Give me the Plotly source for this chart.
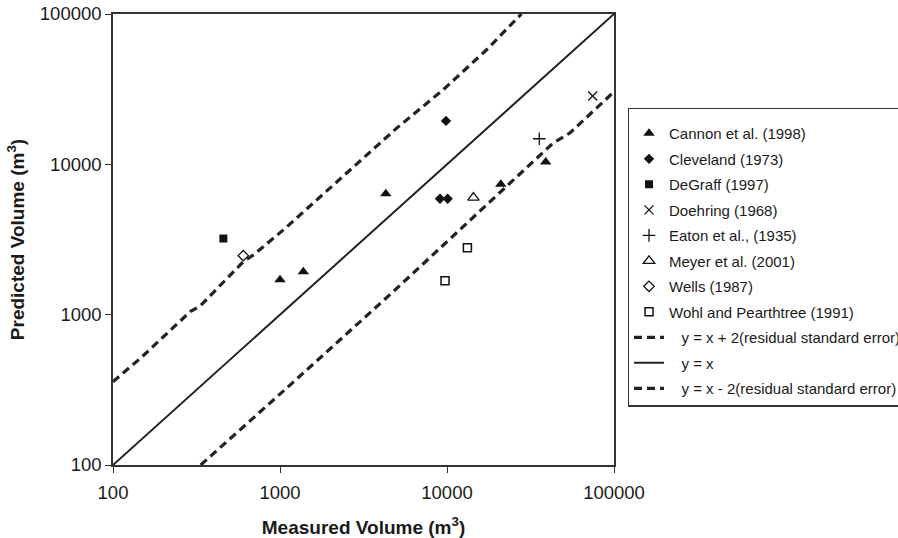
import plotly.graph_objects as go

# ---- data ----
cannon_x = [1000, 1380, 4300, 21000, 39000]
cannon_y = [1710, 1930, 6380, 7360, 10350]

cleveland_x = [9860, 9080, 10090]
cleveland_y = [19450, 5900, 5900]

degraff_x = [458]
degraff_y = [3210]

doehring_x = [74500]
doehring_y = [28500]

eaton_x = [35700]
eaton_y = [14800]

meyer_x = [14400]
meyer_y = [6000]

wells_x = [603]
wells_y = [2470]

wohl_x = [13250, 9730]
wohl_y = [2790, 1680]

upper_x = [100, 146, 290, 333, 604, 693, 1048, 5000, 9480, 17260, 27900]
upper_y = [358, 513, 1047, 1143, 2254, 2496, 3664, 17420, 31330, 57800, 100000]

ident_x = [100, 100000]
ident_y = [100, 100000]

lower_x = [335, 693, 1148, 4765, 11940, 22700, 43150, 54330, 100000]
lower_y = [100, 204, 340, 1423, 3664, 7115, 13840, 16140, 30400]

tick_vals = [100, 1000, 10000, 100000]
tick_text = ["100", "1000", "10000", "100000"]

names = [
    "Cannon et al. (1998)",
    "Cleveland (1973)",
    "DeGraff (1997)",
    "Doehring (1968)",
    "Eaton et al., (1935)",
    "Meyer et al. (2001)",
    "Wells (1987)",
    "Wohl and Pearthtree (1991)",
    "y = x + 2(residual standard error)",
    "y = x",
    "y = x - 2(residual standard error)",
]

INK = "#111111"
LINE = "#222222"
FONT = "Liberation Sans, Arial, sans-serif"
PAD = "\u00a0\u00a0\u00a0"

fig = go.Figure()

def pts(x, y, name, symbol, size, lw=0, grp=""):
    fig.add_trace(go.Scatter(
        x=x, y=y, mode="markers", name=name, legendgroup=grp,
        marker=dict(symbol=symbol, size=size, color=INK,
                    line=dict(color=INK, width=lw)),
    ))

pts(cannon_x, cannon_y, names[0], "triangle-up", 10, 0, "g0")
pts(cleveland_x, cleveland_y, names[1], "diamond", 8, 0, "g1")
pts(degraff_x, degraff_y, names[2], "square", 8, 0, "g2")
pts(doehring_x, doehring_y, names[3], "x-thin", 9, 1.3, "g3")
pts(eaton_x, eaton_y, names[4], "cross-thin", 9, 1.3, "g4")
pts(meyer_x, meyer_y, names[5], "triangle-up-open", 10, 1.3, "g5")
pts(wells_x, wells_y, names[6], "diamond-open", 8, 1.3, "g6")
pts(wohl_x, wohl_y, names[7], "square-open", 8, 1.5, "g7")

fig.add_trace(go.Scatter(x=upper_x, y=upper_y, mode="lines", name=PAD + names[8],
                         legendgroup="g8",
                         line=dict(color=LINE, width=3.2, dash="8px,5px")))
fig.add_trace(go.Scatter(x=ident_x, y=ident_y, mode="lines", name=PAD + names[9],
                         legendgroup="g9",
                         line=dict(color=LINE, width=2)))
fig.add_trace(go.Scatter(x=lower_x, y=lower_y, mode="lines", name=PAD + names[10],
                         legendgroup="g10",
                         line=dict(color=LINE, width=3.2, dash="8px,5px")))

axis_common = dict(
    type="log",
    range=[2, 5],
    tickvals=tick_vals,
    ticktext=tick_text,
    ticks="outside",
    ticklen=6,
    tickwidth=1.3,
    tickcolor="#333333",
    showline=True,
    linecolor="#333333",
    linewidth=1.5,
    mirror=True,
    showgrid=False,
    zeroline=False,
    tickfont=dict(family=FONT, size=18.5, color="#1a1a1a"),
)

fig.update_xaxes(**axis_common,
                 ticklabelstandoff=4,
                 title=dict(text="<b>Measured Volume (m<sup>3</sup>)</b>",
                            font=dict(family=FONT, size=19, color="#1a1a1a"),
                            standoff=22))
fig.update_yaxes(**axis_common,
                 title=dict(text="<b>Predicted Volume (m<sup>3</sup>)</b>",
                            font=dict(family=FONT, size=19, color="#1a1a1a"),
                            standoff=10))

fig.update_layout(
    width=898, height=538,
    margin=dict(l=113, r=284, t=14, b=73, autoexpand=False),
    paper_bgcolor="white",
    plot_bgcolor="white",
    showlegend=True,
    legend=dict(
        x=1.027, y=0.792, xanchor="left", yanchor="top",
        bordercolor="#333333", borderwidth=1.5,
        bgcolor="white",
        font=dict(family=FONT, size=15, color="#1a1a1a"),
        title=dict(text=" ", font=dict(size=6)),
        traceorder="grouped",
        tracegroupgap=3,
        itemwidth=30,
    ),
    font=dict(family=FONT),
)

fig.write_html("out.html",
               config={"displayModeBar": False},
               post_script="document.body.style.margin='0px';")
